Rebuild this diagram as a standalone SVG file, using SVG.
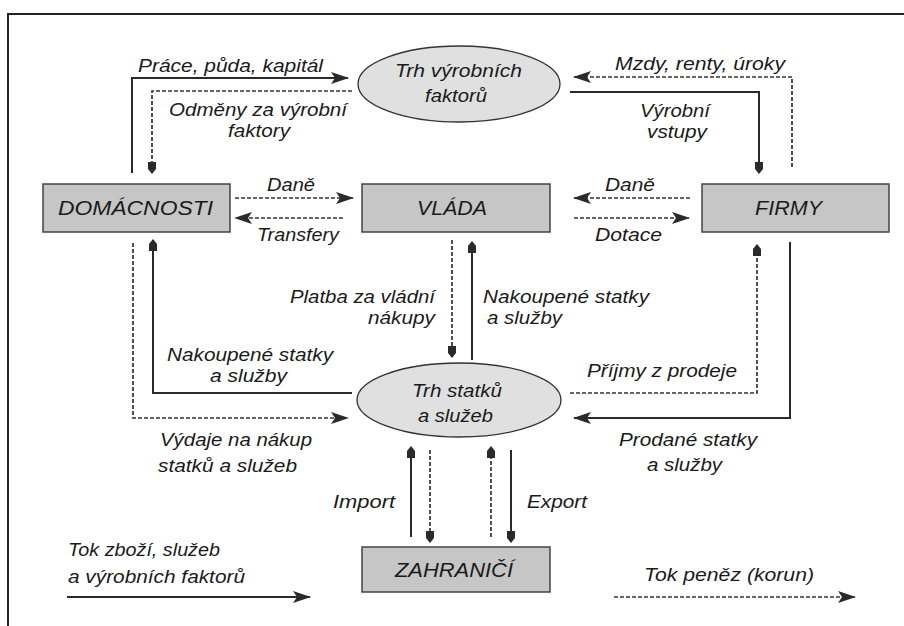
<svg xmlns="http://www.w3.org/2000/svg" width="904" height="626" viewBox="0 0 904 626">
<style>
text{font-family:"Liberation Sans",Arial,sans-serif;font-style:italic;fill:#1a1a1a;font-size:18px}
.big{font-size:21px}
.box{fill:#c6c6c6;stroke:#444;stroke-width:1.5}
.ell{fill:#e0e0e0;stroke:#333;stroke-width:1.3}
.s{fill:none;stroke:#2a2a2a;stroke-width:2}
.d{fill:none;stroke:#333;stroke-width:1.7;stroke-dasharray:4 2}
.frame{fill:none;stroke:#222;stroke-width:2}
</style>
<defs>
<marker id="ah" markerUnits="userSpaceOnUse" markerWidth="18" markerHeight="12" refX="17" refY="6" orient="auto">
<path d="M0,0 L18,6 L0,12 L4,6 Z" fill="#2a2a2a"/>
</marker>
<marker id="av" markerUnits="userSpaceOnUse" markerWidth="12" markerHeight="10" refX="11" refY="5" orient="auto">
<path d="M0,1 L7,1 L12,5 L7,9 L0,9 Z" fill="#2a2a2a"/>
</marker>
</defs>
<rect width="904" height="626" fill="#fff"/>
<path class="frame" d="M8,626 V14 H904"/>

<g id="connectors">
<path class="s" d="M132,173 V78 H348" marker-end="url(#ah)"/>
<path class="d" d="M352,91 H152 V173" marker-end="url(#av)"/>
<path class="d" d="M792,167 V77 H574" marker-end="url(#ah)"/>
<path class="s" d="M570,92 H759 V173" marker-end="url(#av)"/>
<path class="d" d="M235,198 H353" marker-end="url(#ah)"/>
<path class="d" d="M343,218 H235" marker-end="url(#ah)"/>
<path class="d" d="M690,198 H574" marker-end="url(#ah)"/>
<path class="d" d="M574,218 H689" marker-end="url(#ah)"/>
<path class="d" d="M452,240 V357" marker-end="url(#av)"/>
<path class="s" d="M472,360 V242" marker-end="url(#av)"/>
<path class="s" d="M352,393 H153 V240" marker-end="url(#av)"/>
<path class="d" d="M133,243 V418 H348" marker-end="url(#ah)"/>
<path class="d" d="M570,393 H757 V245" marker-end="url(#av)"/>
<path class="s" d="M790,242 V418 H574" marker-end="url(#ah)"/>
<path class="s" d="M411,537 V447" marker-end="url(#av)"/>
<path class="d" d="M430,450 V542" marker-end="url(#av)"/>
<path class="d" d="M491,537 V447" marker-end="url(#av)"/>
<path class="s" d="M511,450 V542" marker-end="url(#av)"/>
<path class="s" d="M67,597 H310" marker-end="url(#ah)"/>
<path class="d" d="M614,597 H855" marker-end="url(#ah)"/>
</g>

<g id="trh-vyrobnich-faktoru">
<ellipse class="ell" cx="459" cy="84" rx="101" ry="38"/>
<text x="395" y="77" textLength="127" lengthAdjust="spacingAndGlyphs">Trh výrobních</text>
<text x="425" y="102" textLength="62" lengthAdjust="spacingAndGlyphs">faktorů</text>
</g>

<g id="domacnosti">
<rect class="box" x="43" y="184" width="187" height="48"/>
<text class="big" x="58" y="215" textLength="155" lengthAdjust="spacingAndGlyphs">DOMÁCNOSTI</text>
</g>

<g id="vlada">
<rect class="box" x="362" y="184" width="188" height="48"/>
<text class="big" x="417" y="215" textLength="70" lengthAdjust="spacingAndGlyphs">VLÁDA</text>
</g>

<g id="firmy">
<rect class="box" x="702" y="184" width="187" height="48"/>
<text class="big" x="755" y="215" textLength="67" lengthAdjust="spacingAndGlyphs">FIRMY</text>
</g>

<g id="trh-statku">
<ellipse class="ell" cx="459" cy="400" rx="102" ry="37"/>
<text x="412" y="397" textLength="90" lengthAdjust="spacingAndGlyphs">Trh statků</text>
<text x="418" y="422" textLength="75" lengthAdjust="spacingAndGlyphs">a služeb</text>
</g>

<g id="zahranici">
<rect class="box" x="362" y="547" width="188" height="45"/>
<text class="big" x="395" y="577" textLength="118" lengthAdjust="spacingAndGlyphs">ZAHRANIČÍ</text>
</g>

<g id="labels">
<text x="138" y="72" textLength="185" lengthAdjust="spacingAndGlyphs">Práce, půda, kapitál</text>
<text x="169" y="116" textLength="178" lengthAdjust="spacingAndGlyphs">Odměny za výrobní</text>
<text x="228" y="137" textLength="62" lengthAdjust="spacingAndGlyphs">faktory</text>
<text x="615" y="70" textLength="170" lengthAdjust="spacingAndGlyphs">Mzdy, renty, úroky</text>
<text x="640" y="117" textLength="70" lengthAdjust="spacingAndGlyphs">Výrobní</text>
<text x="647" y="138" textLength="60" lengthAdjust="spacingAndGlyphs">vstupy</text>
<text x="267" y="191" textLength="48" lengthAdjust="spacingAndGlyphs">Daně</text>
<text x="605" y="191" textLength="50" lengthAdjust="spacingAndGlyphs">Daně</text>
<text x="257" y="241" textLength="82" lengthAdjust="spacingAndGlyphs">Transfery</text>
<text x="595" y="241" textLength="67" lengthAdjust="spacingAndGlyphs">Dotace</text>
<text x="290" y="303" textLength="145" lengthAdjust="spacingAndGlyphs">Platba za vládní</text>
<text x="368" y="324" textLength="67" lengthAdjust="spacingAndGlyphs">nákupy</text>
<text x="483" y="303" textLength="166" lengthAdjust="spacingAndGlyphs">Nakoupené statky</text>
<text x="487" y="324" textLength="75" lengthAdjust="spacingAndGlyphs">a služby</text>
<text x="167" y="361" textLength="166" lengthAdjust="spacingAndGlyphs">Nakoupené statky</text>
<text x="210" y="382" textLength="77" lengthAdjust="spacingAndGlyphs">a služby</text>
<text x="587" y="377" textLength="150" lengthAdjust="spacingAndGlyphs">Příjmy z prodeje</text>
<text x="160" y="446" textLength="152" lengthAdjust="spacingAndGlyphs">Výdaje na nákup</text>
<text x="158" y="472" textLength="139" lengthAdjust="spacingAndGlyphs">statků a služeb</text>
<text x="619" y="446" textLength="138" lengthAdjust="spacingAndGlyphs">Prodané statky</text>
<text x="647" y="471" textLength="75" lengthAdjust="spacingAndGlyphs">a služby</text>
<text x="333" y="508" textLength="62" lengthAdjust="spacingAndGlyphs">Import</text>
<text x="527" y="508" textLength="60" lengthAdjust="spacingAndGlyphs">Export</text>
<text x="68" y="556" textLength="152" lengthAdjust="spacingAndGlyphs">Tok zboží, služeb</text>
<text x="68" y="583" textLength="177" lengthAdjust="spacingAndGlyphs">a výrobních faktorů</text>
<text x="644" y="581" textLength="170" lengthAdjust="spacingAndGlyphs">Tok peněz (korun)</text>
</g>
</svg>
